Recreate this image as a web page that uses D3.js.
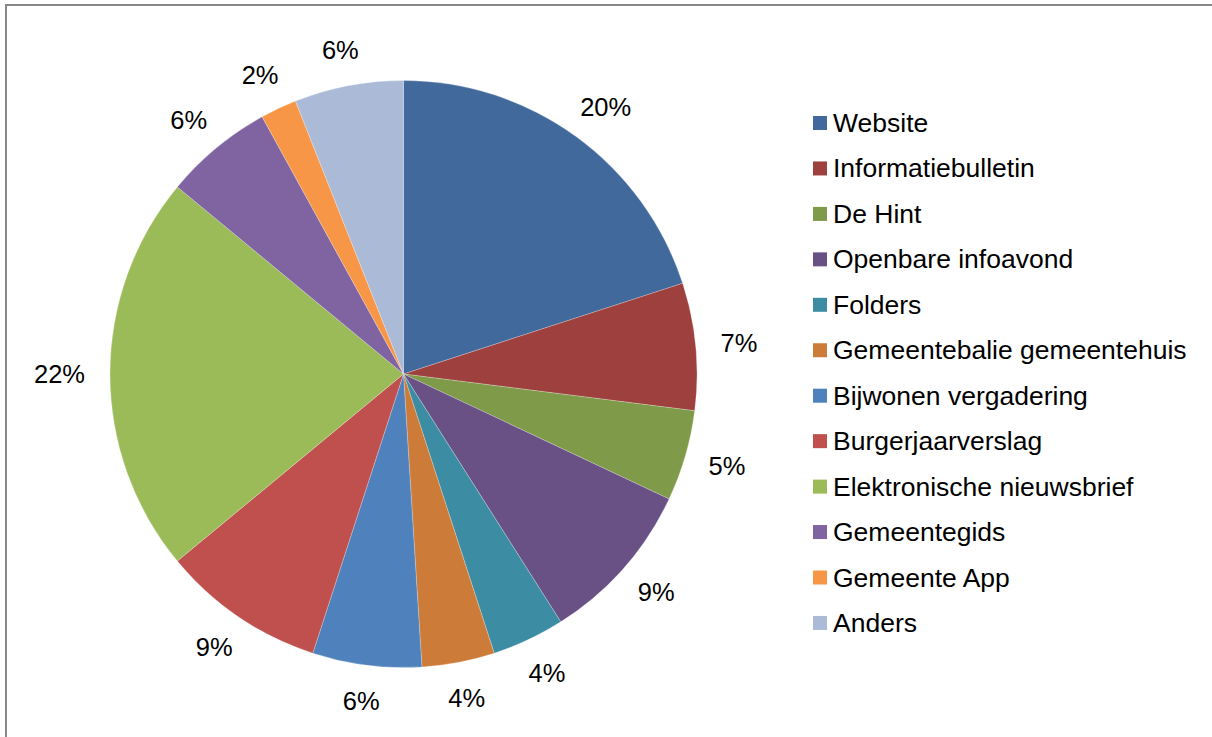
<!DOCTYPE html>
<html>
<head>
<meta charset="utf-8">
<script src="https://cdn.jsdelivr.net/npm/d3@7"></script>
<style>
  html, body { margin: 0; padding: 0; background: #fff; }
  svg { display: block; }
  text { font-family: "Liberation Sans", Arial, sans-serif; fill: #000; }
</style>
</head>
<body>
<svg id="chart" width="1212" height="737"></svg>
<script>
// Channels used to follow municipal news (share of respondents, %)
const categories = [
  "Website", "Informatiebulletin", "De Hint", "Openbare infoavond", "Folders",
  "Gemeentebalie gemeentehuis", "Bijwonen vergadering", "Burgerjaarverslag",
  "Elektronische nieuwsbrief", "Gemeentegids", "Gemeente App", "Anders"
];
const shares = [20, 7, 5, 9, 4, 4, 6, 9, 22, 6, 2, 6];
const sliceColors = [
  "#41699C", "#9E413E", "#7F9A48", "#695186", "#3C8DA3", "#CC7B38",
  "#4F81BD", "#C0504D", "#9BBB59", "#8064A2", "#F79646", "#AABAD7"
];

const svg = d3.select("#chart");
const W = 1212, H = 737;

// chart area frame
svg.append("rect")
  .attr("x", 6).attr("y", 5)
  .attr("width", W + 20).attr("height", H + 20)
  .attr("fill", "#fff")
  .attr("stroke", "#878787")
  .attr("stroke-width", 2);

const cx = 403.5, cy = 374, radius = 293.5;
const color = d3.scaleOrdinal().domain(categories).range(sliceColors);

const pie = d3.pie().sort(null).value(d => d.value);
const data = categories.map((c, i) => ({ name: c, value: shares[i] }));
const arcs = pie(data);
const arc = d3.arc().innerRadius(0).outerRadius(radius);

const g = svg.append("g").attr("transform", `translate(${cx},${cy})`);

g.selectAll("path.slice")
  .data(arcs)
  .join("path")
  .attr("class", "slice")
  .attr("d", arc)
  .attr("fill", d => color(d.data.name))
  .attr("stroke", "#fff")
  .attr("stroke-width", 0.4)
  .attr("stroke-opacity", 0.6);

// percentage labels placed just outside the rim, box pushed outward
const fs = 25.5, gap = 25;
const fmt = v => `${v}%`;
g.selectAll("text.pct")
  .data(arcs)
  .join("text")
  .attr("class", "pct")
  .attr("font-size", fs)
  .attr("text-anchor", "middle")
  .attr("dominant-baseline", "central")
  .text(d => fmt(d.data.value))
  .each(function (d) {
    const a = (d.startAngle + d.endAngle) / 2;
    const s = Math.sin(a), c = Math.cos(a);
    const w = this.getComputedTextLength();
    const h = fs * 0.9;
    const px = (radius + gap) * s + (w / 2) * s;
    const py = -(radius + gap) * c - (h / 2) * c;
    d3.select(this).attr("x", px).attr("y", py);
  });

// legend
const legendX = 813, legendY0 = 123, legendStep = 45.45;
const y = d3.scalePoint()
  .domain(categories)
  .range([legendY0, legendY0 + legendStep * (categories.length - 1)]);

const legend = svg.append("g");
const item = legend.selectAll("g.item")
  .data(categories)
  .join("g")
  .attr("class", "item")
  .attr("transform", d => `translate(${legendX},${y(d)})`);

item.append("rect")
  .attr("x", 0).attr("y", -7)
  .attr("width", 14).attr("height", 14)
  .attr("fill", d => color(d));

item.append("text")
  .attr("x", 20)
  .attr("y", 0)
  .attr("dominant-baseline", "central")
  .attr("font-size", 26.5)
  .text(d => d);
</script>
</body>
</html>
